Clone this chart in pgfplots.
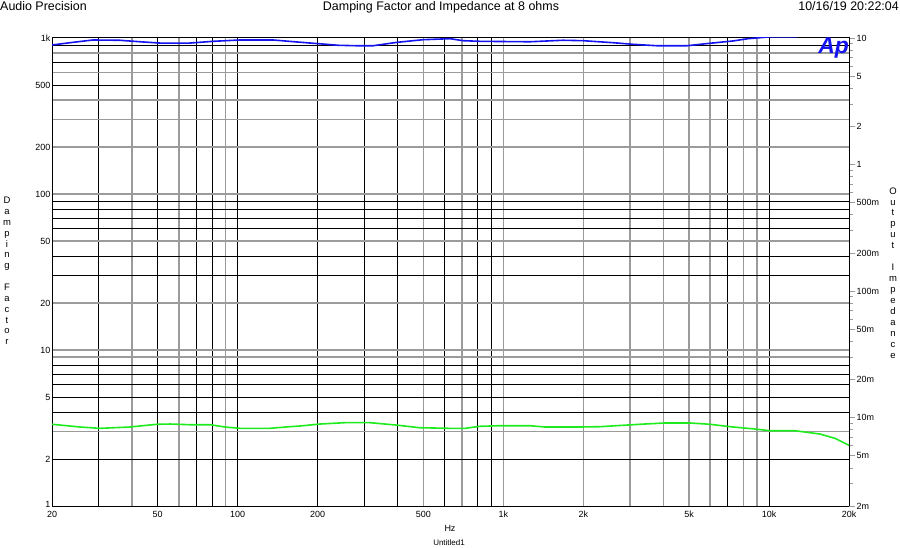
\documentclass[border=0pt]{standalone}
\usepackage{fontspec}
\setmainfont{Liberation Sans}
\usepackage{pgfplots}
\pgfplotsset{compat=1.18}
\definecolor{apblue}{RGB}{20,20,240}
\definecolor{apgreen}{RGB}{30,235,30}
\definecolor{gridgray}{RGB}{155,155,155}
\begin{document}
\begin{tikzpicture}
\useasboundingbox (-52bp,-42bp) rectangle (848bp,506bp);
\begin{axis}[at={(0,0)}, anchor=south west, scale only axis, width=797bp, height=468bp,
 xmode=log, ymode=log, xmin=20, xmax=20000, ymin=1, ymax=1000,
 xtick={30,50,70,80,100,200,300,400,600,800,900,7000,10000},
 minor xtick={40,60,90,500,700,1000,2000,3000,4000,5000,6000,8000,9000},
 ytick={2,4,5,6,7,8,30,40,60,70,80,90,500,700,900},
 minor ytick={3,9,10,20,50,100,200,300,400,600,800},
 xticklabels={}, yticklabels={},
 grid=both,
 major grid style={black, line width=0.8bp},
 minor grid style={gridgray, line width=1.6bp},
 major tick length=0pt, minor tick length=0pt,
 extra x ticks={20,50,100,200,500,1000,2000,5000,10000,20000},
 extra x tick labels={20,50,100,200,500,1k,2k,5k,10k,20k},
 extra y ticks={1,2,5,10,20,50,100,200,500,1000},
 extra y tick labels={\raisebox{3bp}{1},2,5,10,20,50,100,200,500,1k},
 extra tick style={grid=none},
 axis line style={black, line width=1bp},
 ticklabel style={font=\fontsize{9}{10}\selectfont},
 xticklabel style={yshift=-1.5bp},
 yticklabel style={inner sep=1.5bp},
]
\addplot[apblue, line width=1.6bp] coordinates {
(20,902)(24,938)(28.5,971)(36,967)(42.9,946)(51,928)(66,928)(80.7,952)(102,971)(136,971)(167,943)(209,915)(239,898)(281,892)(323,892)(398,938)(498,975)(630,990)(705,961)(817,952)(1259,946)(1676,967)(1995,961)(2588,933)(3077,911)(3786,892)(4909,892)(5993,925)(7314,957)(8337,990)(10000,1016)(12500,1016)(15500,1080)(20000,1327)};
\end{axis}
\begin{axis}[at={(0,0)}, anchor=south west, scale only axis, width=797bp, height=468bp,
 xmode=log, ymode=log, xmin=20, xmax=20000, ymin=0.002, ymax=10,
 hide x axis, axis y line*=right,
 ytick={0.002,0.005,0.01,0.02,0.05,0.1,0.2,0.5,1,2,5,10},
 yticklabels={2m,5m,10m,20m,50m,100m,200m,500m,1,2,5,10},
 minor ytick={0.003,0.004,0.006,0.007,0.008,0.009,0.03,0.04,0.06,0.07,0.08,0.09,0.3,0.4,0.6,0.7,0.8,0.9,3,4,6,7,8,9},
 tick align=outside, major tick length=6bp, minor tick length=4bp,
 tick style={gridgray, line width=0.8bp},
 axis line style={black, line width=1bp},
 ticklabel style={font=\fontsize{9}{10}\selectfont},
 yticklabel style={inner sep=1.5bp},
]
\addplot[apgreen, line width=1.6bp] coordinates {
(20,0.00885)(25.5,0.00842)(30.3,0.00822)(39.3,0.00842)(49.7,0.00885)(55.6,0.00889)(66.1,0.00878)(78.7,0.00878)(89.6,0.00842)(102,0.00822)(132,0.00822)(157,0.00847)(172,0.00858)(204,0.00889)(253,0.00911)(315,0.00911)(391,0.00874)(485,0.00831)(630,0.00822)(717,0.00822)(817,0.00853)(971,0.00862)(1259,0.00862)(1435,0.00842)(1942,0.00842)(2311,0.00847)(3267,0.00885)(4060,0.00906)(5040,0.00906)(5993,0.00885)(7128,0.00847)(8851,0.00812)(10083,0.00787)(12525,0.00787)(15559,0.00741)(17720,0.00685)(20000,0.00603)};
\end{axis}
\node[anchor=base west, inner sep=0, font=\fontsize{12.5}{14}\selectfont] at (-52bp,495bp) {Audio Precision};
\node[anchor=base, inner sep=0, font=\fontsize{12.5}{14}\selectfont] at (389bp,495bp) {Damping Factor and Impedance at 8 ohms};
\node[anchor=base east, inner sep=0, font=\fontsize{12.5}{14}\selectfont] at (847bp,495bp) {10/16/19 20:22:04};
\node[align=center, inner sep=0, font=\fontsize{9.5}{10.9}\selectfont] at (-45bp,235bp) {D\\a\\m\\p\\i\\n\\g\\\mbox{}\\F\\a\\c\\t\\o\\r};
\node[align=center, inner sep=0, font=\fontsize{9.5}{11}\selectfont] at (841bp,233bp) {O\\u\\t\\p\\u\\t\\\mbox{}\\I\\m\\p\\e\\d\\a\\n\\c\\e};
\node[anchor=base, inner sep=0, font=\fontsize{9}{10}\selectfont] at (398bp,-25bp) {Hz};
\node[anchor=base, inner sep=0, font=\fontsize{8}{9}\selectfont] at (397bp,-39bp) {Untitled1};
\node[anchor=north east, inner sep=0, text=apblue, font=\fontsize{23}{23}\selectfont\bfseries\itshape] at (797bp,468bp) {Ap};
\end{tikzpicture}
\end{document}
